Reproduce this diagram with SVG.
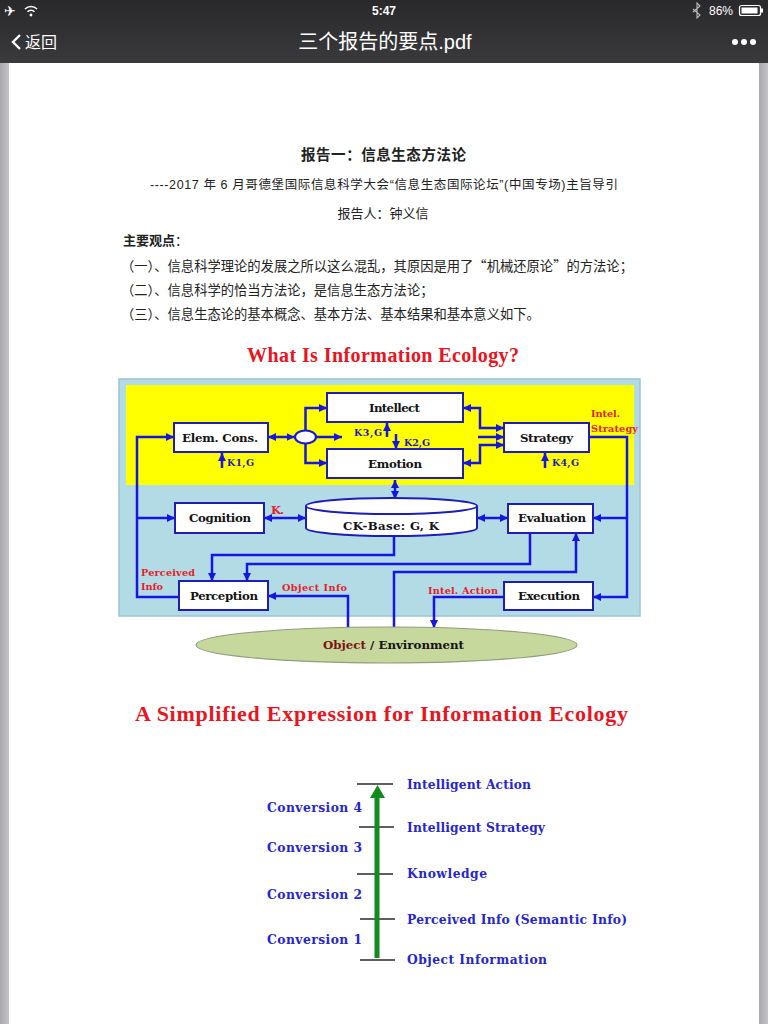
<svg xmlns="http://www.w3.org/2000/svg" width="768" height="1024" viewBox="0 0 768 1024">
<defs>
<linearGradient id="bar" x1="0" y1="0" x2="0" y2="1">
<stop offset="0" stop-color="#29292b"/>
<stop offset="0.35" stop-color="#2f2f31"/>
<stop offset="1" stop-color="#3a3a3c"/>
</linearGradient>
<linearGradient id="edge" x1="0" y1="0" x2="1" y2="0">
<stop offset="0" stop-color="#a9a9ad"/>
<stop offset="1" stop-color="#c4c4c8"/>
</linearGradient>
<marker id="ah" viewBox="0 0 10 10" refX="10" refY="5" markerWidth="8" markerHeight="8" markerUnits="userSpaceOnUse" orient="auto-start-reverse">
<path d="M0,0 L10,5 L0,10 z" fill="#1616e0"/>
</marker>
<style>
.cn{font-family:"Liberation Sans","Noto Sans CJK SC",sans-serif;fill:#222}
.cj{font-family:"Noto Sans CJK SC",sans-serif;fill:#222}
.ui{font-family:"Liberation Sans","Noto Sans CJK SC",sans-serif;fill:#fff}
.ttl{font-family:"Liberation Serif",serif;font-weight:bold;font-size:20px;fill:#e8141e}
.box{fill:#fff;stroke:#1e1eb4;stroke-width:2}
.lbl{font-family:"DejaVu Serif",serif;font-weight:bold;font-size:11.8px;fill:#141414}
.red{font-family:"DejaVu Serif",serif;font-weight:bold;font-size:9.7px;fill:#e4202a}
.k{font-family:"DejaVu Serif",serif;font-weight:bold;font-size:9.5px;fill:#1c1cb4}
.ln{fill:none;stroke:#1616e0;stroke-width:2.5}
.end{marker-end:url(#ah)}
.both{marker-start:url(#ah);marker-end:url(#ah)}
.tick{stroke:#2a2a2a;stroke-width:1.6}
.bl{font-family:"DejaVu Serif",serif;font-weight:bold;font-size:12.3px;fill:#2626cc}
</style>
</defs>

<!-- page -->
<rect x="0" y="0" width="768" height="1024" fill="#ffffff"/>
<rect x="0" y="62" width="9" height="962" fill="url(#edge)"/>
<rect x="759" y="62" width="9" height="962" fill="url(#edge)"/>

<!-- status & navigation bar -->
<g id="topbar">
<rect x="0" y="0" width="768" height="63" fill="url(#bar)"/>
<text x="4" y="16" font-family="DejaVu Sans" font-size="14" fill="#fff">✈</text>
<circle cx="31" cy="15" r="1.4" fill="#fff"/>
<path d="M27.5,11.8 A5,5 0 0 1 34.5,11.8 M25,9 A8.5,8.5 0 0 1 37,9" fill="none" stroke="#fff" stroke-width="1.5"/>
<text x="384" y="15" text-anchor="middle" class="ui" font-size="12" font-weight="bold">5:47</text>
<path d="M693,9 L700,15 L697,18 L697,3 L700,6 L693,12" fill="none" stroke="#bbb" stroke-width="1.1"/>
<text x="709" y="15" class="ui" font-size="12">86%</text>
<rect x="739.5" y="5.5" width="21" height="10" rx="2" fill="none" stroke="#fff" stroke-width="1.2"/>
<rect x="741.5" y="7.5" width="16" height="6" fill="#fff"/>
<rect x="761" y="8.5" width="2" height="4" fill="#fff"/>
<path d="M20,35 L13,42 L20,49" fill="none" stroke="#fff" stroke-width="2.4"/>
<text x="25" y="48" class="ui" font-size="16">返回</text>
<text x="385" y="49" text-anchor="middle" class="ui" font-size="20">三个报告的要点.pdf</text>
<circle cx="735" cy="42" r="3" fill="#fff"/>
<circle cx="744" cy="42" r="3" fill="#fff"/>
<circle cx="753" cy="42" r="3" fill="#fff"/>
</g>

<!-- document text -->
<g id="doctext">
<text x="301" y="160" class="cj" font-size="14.5" font-weight="bold" textLength="165">报告一：信息生态方法论</text>
<text x="150" y="189" class="cn" font-size="12.5" textLength="468">----2017 年 6 月哥德堡国际信息科学大会“信息生态国际论坛”(中国专场)主旨导引</text>
<text x="383" y="218" text-anchor="middle" class="cj" font-size="13">报告人：钟义信</text>
<text x="123" y="245" class="cj" font-size="13"><tspan font-weight="bold">主要观点</tspan>：</text>
<text x="121" y="271" class="cj" font-size="13.3">（一）、信息科学理论的发展之所以这么混乱，其原因是用了“机械还原论”的方法论；</text>
<text x="121" y="295" class="cj" font-size="13.3">（二）、信息科学的恰当方法论，是信息生态方法论；</text>
<text x="121" y="319" class="cj" font-size="13.3">（三）、信息生态论的基本概念、基本方法、基本结果和基本意义如下。</text>
</g>

<!-- figure 1 -->
<text id="title1" x="247" y="362" class="ttl" textLength="272">What Is Information Ecology?</text>

<g id="panels">
<rect x="119" y="379" width="521" height="237" fill="#b3dbe6" stroke="#9cc4d4" stroke-width="1.5"/>
<rect x="126" y="385" width="508" height="100" fill="#ffff00"/>
</g>

<g id="connectors">
<path class="ln end" d="M179,597 H137 V437 H174"/>
<path class="ln end" d="M137,518 H175"/>
<path class="ln both" d="M268,437 H294.5"/>
<path class="ln end" d="M305.5,431 V408 H327"/>
<path class="ln end" d="M305.5,443 V463 H327"/>
<path class="ln end" d="M316,437 H342"/>
<path class="ln end" d="M387,437 V423"/>
<path class="ln end" d="M396,434 V449"/>
<path class="ln end" d="M222,468 V453"/>
<path class="ln end" d="M545,468 V453"/>
<path class="ln both" d="M463,408 H480 V428 H504"/>
<path class="ln both" d="M463,463 H480 V445 H504"/>
<path class="ln end" d="M478,437 H504"/>
<path class="ln end" d="M589,437 H627 V597 H593"/>
<path class="ln end" d="M627,518 H593"/>
<path class="ln both" d="M395,480 V499"/>
<path class="ln both" d="M264,518 H306"/>
<path class="ln both" d="M477,518 H508"/>
<path class="ln end" d="M394,536 V555 H212 V581"/>
<path class="ln end" d="M530,533 V564 H247 V581"/>
<path class="ln end" d="M394,628 V572 H576 V533"/>
<path class="ln end" d="M348,628 V596 H268"/>
<path class="ln end" d="M504,597 H434 V628"/>
</g>

<g id="elemcons">
<rect class="box" x="174" y="423" width="94" height="29"/>
<text x="182" y="442" class="lbl" textLength="76">Elem. Cons.</text>
<text x="227" y="466" class="k" textLength="27">K1,G</text>
</g>
<g id="junction">
<ellipse cx="305.5" cy="437" rx="10.5" ry="6.5" fill="#fff" stroke="#1616e0" stroke-width="2.2"/>
</g>
<g id="intellect">
<rect class="box" x="327" y="393" width="136" height="29"/>
<text x="369" y="412" class="lbl" textLength="51">Intellect</text>
<text x="354" y="436" class="k" textLength="28">K3,G</text>
</g>
<g id="emotion">
<rect class="box" x="327" y="449" width="136" height="29"/>
<text x="368" y="468" class="lbl" textLength="54">Emotion</text>
<text x="404" y="446" class="k" textLength="26">K2,G</text>
</g>
<g id="strategy">
<rect class="box" x="504" y="423" width="85" height="29"/>
<text x="520" y="442" class="lbl" textLength="53">Strategy</text>
<text x="552" y="466" class="k" textLength="27">K4,G</text>
<text x="591" y="417" class="red" textLength="29">Intel.</text>
<text x="591" y="432" class="red" textLength="47">Strategy</text>
</g>
<g id="cognition">
<rect class="box" x="175" y="503" width="89" height="30"/>
<text x="189" y="522" class="lbl" textLength="62">Cognition</text>
<text x="271" y="514" class="red" style="font-size:11.5px" textLength="13">K.</text>
</g>
<g id="ckbase">
<path d="M306,506 V528 A85.5,8 0 0 0 477,528 V506" fill="#fff" stroke="#1e1eb4" stroke-width="2"/>
<ellipse cx="391.5" cy="506" rx="85.5" ry="8" fill="#fff" stroke="#1e1eb4" stroke-width="2"/>
<text x="343" y="530" class="lbl" textLength="96">CK-Base: G, K</text>
</g>
<g id="evaluation">
<rect class="box" x="508" y="504" width="85" height="29"/>
<text x="518" y="522" class="lbl" textLength="68">Evaluation</text>
</g>
<g id="perception">
<rect class="box" x="179" y="581" width="89" height="29"/>
<text x="190" y="600" class="lbl" textLength="68">Perception</text>
<text x="141" y="576" class="red" textLength="54">Perceived</text>
<text x="141" y="590" class="red" textLength="22">Info</text>
<text x="282" y="591" class="red" textLength="65">Object Info</text>
</g>
<g id="execution">
<rect class="box" x="504" y="582" width="89" height="28"/>
<text x="518" y="600" class="lbl" textLength="62">Execution</text>
<text x="428" y="594" class="red" textLength="70">Intel. Action</text>
</g>
<g id="object">
<ellipse cx="386.5" cy="645" rx="190.5" ry="18" fill="#c7d89c" stroke="#8e9e80" stroke-width="1.2"/>
<text x="323" y="649" class="lbl" textLength="141"><tspan fill="#7a1414">Object</tspan> / Environment</text>
</g>

<!-- figure 2 -->
<text id="title2" x="135" y="721" class="ttl" style="font-size:22px" textLength="493">A Simplified Expression for Information Ecology</text>

<g id="scale">
<line class="tick" x1="357" y1="784" x2="393" y2="784"/>
<line class="tick" x1="359" y1="827" x2="394" y2="827"/>
<line class="tick" x1="357" y1="874" x2="393" y2="874"/>
<line class="tick" x1="360" y1="919" x2="395" y2="919"/>
<line class="tick" x1="360" y1="960" x2="395" y2="960"/>
<line x1="377" y1="958" x2="377" y2="796" stroke="#138a1c" stroke-width="5"/>
<polygon points="370,798 377.5,785 385,798" fill="#138a1c"/>
</g>
<g id="levels">
<text x="407" y="789" class="bl" textLength="124">Intelligent Action</text>
<text x="407" y="832" class="bl" textLength="138">Intelligent Strategy</text>
<text x="407" y="878" class="bl" textLength="80">Knowledge</text>
<text x="407" y="924" class="bl" textLength="220">Perceived Info (Semantic Info)</text>
<text x="407" y="964" class="bl" textLength="140">Object Information</text>
</g>
<g id="conversions">
<text x="267" y="812" class="bl" textLength="95">Conversion 4</text>
<text x="267" y="852" class="bl" textLength="95">Conversion 3</text>
<text x="267" y="899" class="bl" textLength="95">Conversion 2</text>
<text x="267" y="944" class="bl" textLength="95">Conversion 1</text>
</g>
</svg>
